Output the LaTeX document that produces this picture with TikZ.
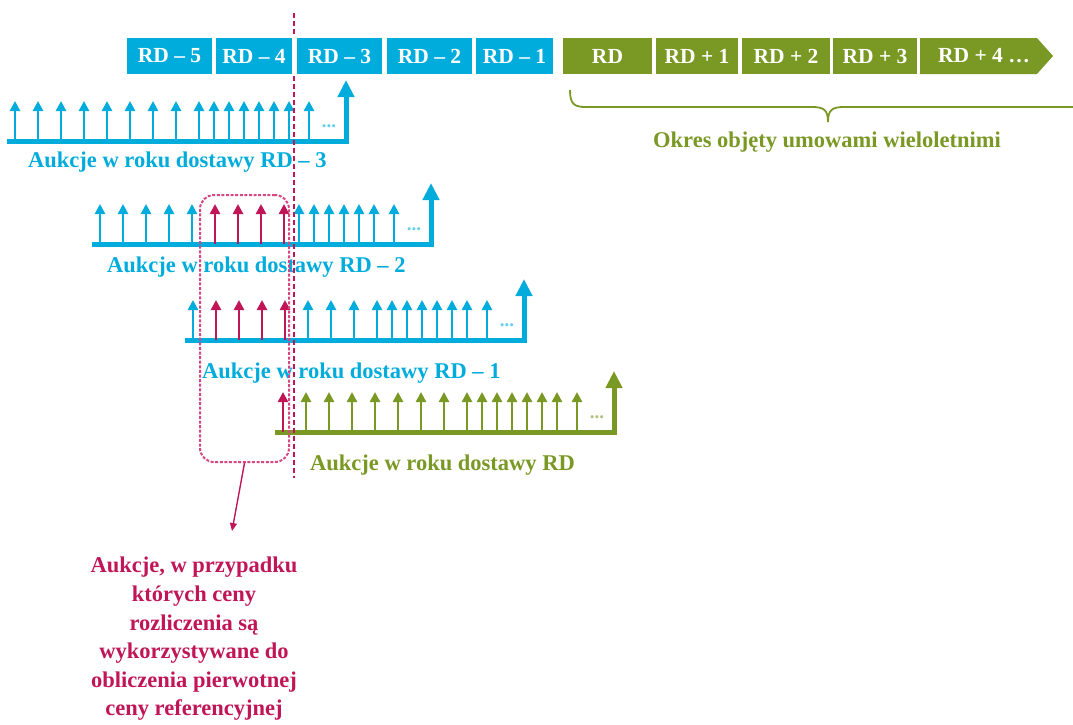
\documentclass[tikz,border=0pt]{standalone}
\usepackage{fontspec}
\setmainfont{Liberation Serif}
\usetikzlibrary{arrows.meta}
\definecolor{cblue}{RGB}{0,172,220}
\definecolor{cgreen}{RGB}{122,152,36}
\definecolor{cmag}{RGB}{192,22,88}
\definecolor{cpink}{RGB}{214,70,130}
\newcommand\drawrow[6]{% #1 first arrow x, #2 base y, #3 colour, #4 red from, #5 red to, #6 node name
  \draw[bigline,#3] (#1-8,#2) -- (#1+331,#2) -- (#1+331,#2-61);
  \foreach \d [count=\i from 0] in {0,23,46,69,92,115,138,161,184,199,214,229,244,259,274,294}{%
    \ifnum\i<#4 \def\cc{#3}\else\ifnum\i>#5 \def\cc{#3}\else\def\cc{cmag}\fi\fi
    \draw[smallarr,\cc] (#1+\d,#2) -- (#1+\d,#2-40);
  }
  \node[dotsnode,text=#3!60] (#6) at (#1+314,#2-15) {...};
}
\begin{document}
\begin{tikzpicture}[x=1pt,y=-1pt,
  boxb/.style={fill=cblue,text=white,font=\bfseries\fontsize{21.5}{21.5}\selectfont,minimum height=36,inner sep=0},
  boxg/.style={boxb,fill=cgreen},
  smallarr/.style={line width=2.6pt,-{Triangle[length=10pt,width=10pt]}},
  bigline/.style={line width=5pt,line join=miter,-{Triangle[length=17pt,width=16pt]}},
  dotsnode/.style={font=\bfseries\fontsize{19}{19}\selectfont,inner sep=0},
  lab/.style={font=\bfseries\fontsize{22.5}{28.6}\selectfont,inner sep=0},
  selbox/.style={draw=cpink,line width=2pt,dash pattern=on 3pt off 1.6pt,rounded corners=14pt,inner sep=0},
  vdash/.style={draw=cmag,line width=2.5pt,dash pattern=on 5pt off 3pt},
  notearr/.style={draw=cmag,line width=1.4pt,-{Triangle[length=8pt,width=7pt]}},
  bracel/.style={draw=cgreen,line width=1.8pt}
]
\useasboundingbox (0,0) rectangle (1073,724);
\clip (0,0) rectangle (1073,724);

% top timeline boxes
\node[boxb,minimum width=85] (b5) at (169.5,56) {RD – 5};
\node[boxb,minimum width=76] (b4) at (254,56) {RD – 4};
\node[boxb,minimum width=85] (b3) at (339.5,56) {RD – 3};
\node[boxb,minimum width=85] (b2) at (429.5,56) {RD – 2};
\node[boxb,minimum width=77] (b1) at (514.5,56) {RD – 1};
\node[boxg,minimum width=89] (g0) at (607.5,56) {RD};
\node[boxg,minimum width=82] (g1) at (697,56) {RD + 1};
\node[boxg,minimum width=88] (g2) at (786,56) {RD + 2};
\node[boxg,minimum width=84] (g3) at (875,56) {RD + 3};
\fill[cgreen] (920,38) -- (1037,38) -- (1053,56) -- (1037,74) -- (920,74) -- cycle;
\node[boxg,fill=none] (g4) at (984,56) {RD + 4 …};

% brace
\draw[bracel] (570,90) .. controls (570,104) and (574,107) .. (586,107) -- (812,107)
  .. controls (824,107) and (828,110) .. (828,122)
  .. controls (828,110) and (832,107) .. (844,107) -- (1070,107)
  .. controls (1082,107) and (1086,104) .. (1086,90);
\node[lab,text=cgreen,anchor=base] (okres) at (827,147) {Okres objęty umowami wieloletnimi};

% rows of auctions
\drawrow{15}{141}{cblue}{99}{99}{dots1}
\drawrow{100}{244}{cblue}{5}{8}{dots2}
\drawrow{193}{340}{cblue}{1}{4}{dots3}
\drawrow{283}{432}{cgreen}{0}{0}{dots4}

\node[lab,text=cblue,anchor=base west] (lab1) at (28,167) {Aukcje w roku dostawy RD – 3};
\node[lab,text=cblue,anchor=base west] (lab2) at (107,272) {Aukcje w roku dostawy RD – 2};
\node[lab,text=cblue,anchor=base west] (lab3) at (202,378) {Aukcje w roku dostawy RD – 1};
\node[lab,text=cgreen,anchor=base west] (lab4) at (310,470) {Aukcje w roku dostawy RD};

% vertical dashed line
\coordinate (v0) at (294,13);
\coordinate (v1) at (294,36);
\coordinate (v2) at (294,76);
\coordinate (v3) at (294,478);
\draw[vdash] (v0) -- (v1);
\draw[vdash] (v2) -- (v3);

% selection box and note
\node[selbox,minimum width=89,minimum height=267] (sel) at (244.5,328.5) {};
\node[lab,text=cmag,align=center,anchor=north] (note) at (194,557)
  {Aukcje, w przypadku\\których ceny\\rozliczenia są\\wykorzystywane do\\obliczenia pierwotnej\\ceny referencyjnej};
\coordinate (tipc) at (232,531);
\draw[notearr] (sel.south) -- (tipc);
\end{tikzpicture}
\end{document}
